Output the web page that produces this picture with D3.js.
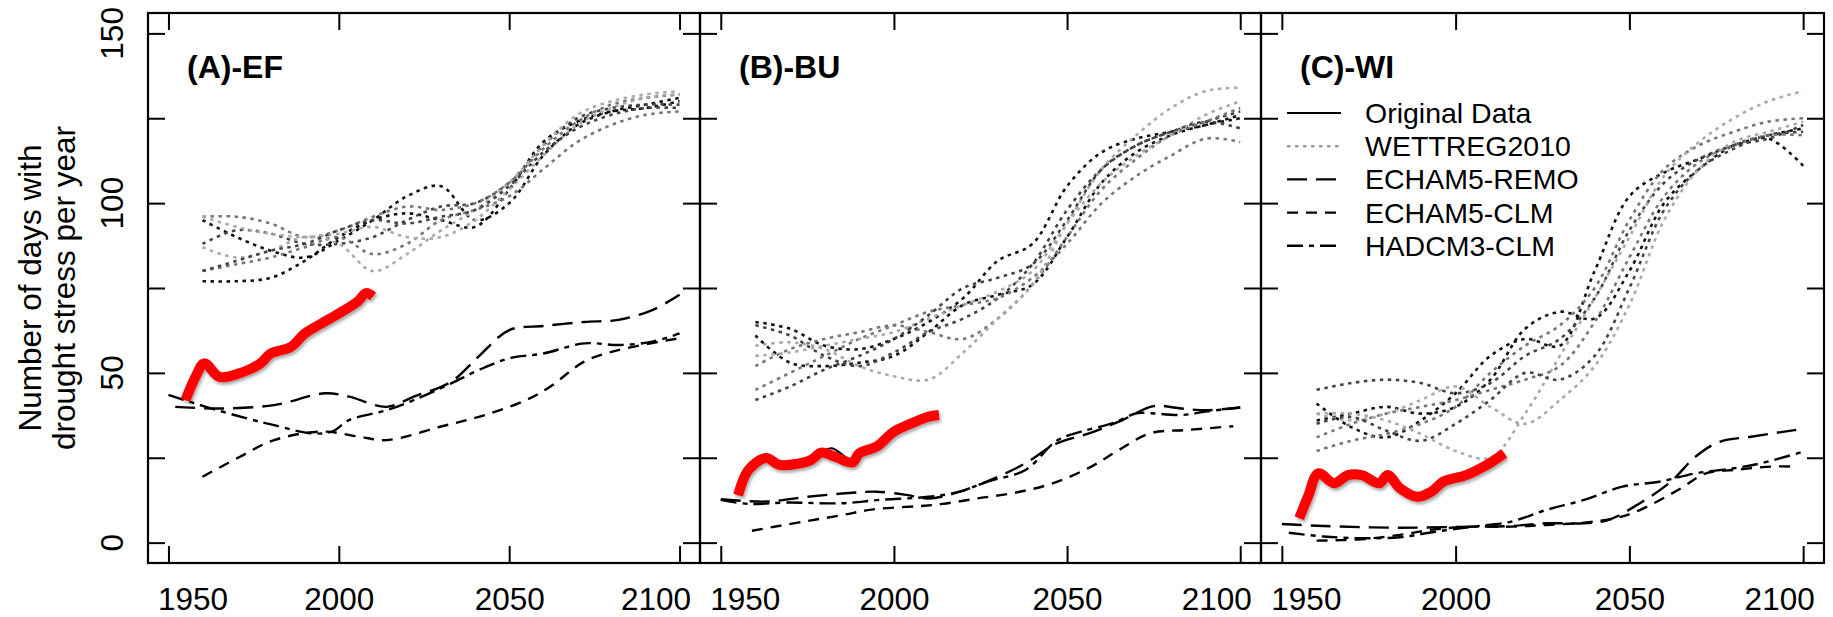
<!DOCTYPE html>
<html>
<head>
<meta charset="utf-8">
<script src="https://cdn.jsdelivr.net/npm/d3@7"></script>
<style>
  html, body { margin: 0; padding: 0; background: #fff; }
  svg { display: block; font-family: "Liberation Sans", Arial, Helvetica, sans-serif; }
</style>
</head>
<body>
<svg id="chart" width="1833" height="617"></svg>
<script>
// ---- Data --------------------------------------------------------------
const panelNames = ["(A)-EF", "(B)-BU", "(C)-WI"];
const xTicks = [1950, 2000, 2050, 2100];
const yTicks = [0, 25, 50, 75, 100, 125, 150];
const yLabels = [0, 50, 100, 150];
const legendLabels = ["Original Data", "WETTREG2010", "ECHAM5-REMO", "ECHAM5-CLM", "HADCM3-CLM"];

// WETTREG2010 realisations, sampled every decade
const wettregYears = [1960, 1970, 1980, 1990, 2000, 2010, 2020, 2030, 2040, 2050, 2060, 2070, 2080, 2090, 2100];
const wettregShades = ["#111", "#111", "#444", "#777", "#777", "#aaa", "#aaa", "#444"];

const efWettreg = [
  [77, 77, 78, 83, 90, 95, 97, 95, 93, 104, 118, 124, 127, 128, 130],
  [95, 90, 86, 84, 89, 95, 102, 105, 95, 100, 114, 123, 127, 129, 131],
  [88, 92, 91, 88, 88, 90, 95, 99, 100, 106, 117, 125, 128, 129, 129],
  [96, 96, 94, 90, 92, 96, 99, 98, 100, 106, 116, 124, 129, 131, 132],
  [80, 82, 84, 87, 90, 85, 88, 95, 98, 102, 110, 118, 123, 126, 127],
  [87, 84, 86, 90, 88, 80, 85, 92, 98, 106, 117, 126, 130, 132, 133],
  [96, 93, 91, 90, 91, 93, 90, 90, 95, 104, 114, 123, 128, 131, 132],
  [80, 83, 86, 88, 92, 95, 94, 96, 98, 105, 115, 122, 126, 128, 128]
];
const buWettreg = [
  [65, 63, 58, 57, 60, 65, 72, 83, 88, 105, 115, 119, 121, 123, 126],
  [61, 53, 52, 53, 55, 62, 70, 73, 76, 90, 106, 115, 120, 123, 125],
  [64, 61, 55, 52, 56, 62, 66, 72, 82, 98, 110, 117, 121, 124, 127],
  [52, 57, 60, 62, 64, 62, 60, 66, 76, 90, 104, 113, 120, 124, 128],
  [45, 50, 55, 60, 64, 68, 70, 72, 78, 88, 100, 108, 114, 119, 118],
  [58, 59, 57, 52, 49, 48, 56, 66, 76, 94, 110, 120, 128, 133, 134],
  [55, 56, 58, 60, 62, 66, 70, 74, 80, 94, 106, 114, 120, 126, 130],
  [42, 46, 51, 55, 60, 67, 75, 78, 82, 95, 110, 117, 121, 124, 122]
];
const wiWettreg = [
  [41, 34, 31, 36, 44, 55, 60, 58, 80, 102, 109, 113, 117, 119, 111],
  [36, 38, 40, 38, 40, 48, 63, 68, 66, 80, 100, 110, 117, 120, 122],
  [45, 47, 48, 47, 44, 47, 55, 60, 72, 92, 106, 113, 117, 119, 123],
  [31, 35, 38, 40, 42, 45, 48, 52, 65, 84, 102, 112, 117, 120, 120],
  [27, 30, 32, 35, 40, 50, 58, 64, 75, 95, 110, 117, 121, 124, 125],
  [38, 38, 36, 32, 27, 25, 38, 55, 72, 90, 108, 118, 125, 130, 133],
  [38, 36, 38, 42, 46, 40, 35, 42, 52, 70, 95, 110, 118, 121, 124],
  [35, 37, 33, 30, 35, 42, 50, 48, 55, 75, 98, 110, 116, 120, 121]
];

// Regional climate model runs: [year, days]
const efRemo = [[1952,40],[1965,39.5],[1981,40.5],[1996,44],[2003,43],[2014,40],[2022,43],[2033,47.4],[2041,54.8],[2050,62.6],[2060,63.8],[2072,65],[2082,65.6],[2092,68.5],[2100,73]];
const efClm = [[1960,19.4],[1971,25.3],[1981,30.2],[1995,32.7],[2006,31.2],[2014,30.2],[2030,34.2],[2043,37.6],[2055,42],[2062,45.9],[2072,53.3],[2082,56.7],[2100,60.2]];
const efHad = [[1950,43.5],[1961,40],[1973,36.6],[1981,34.6],[1992,32.2],[1998,32.7],[2003,36.1],[2014,39],[2022,42],[2033,46.9],[2041,50.8],[2050,54.3],[2060,55.7],[2072,58.7],[2082,58.2],[2092,59.2],[2100,61.6]];

const buRemo = [[1950,12.8],[1963,12.1],[1975,13.5],[1988,14.7],[1995,15],[2004,14],[2010,13],[2019,15],[2030,19.4],[2038,23.4],[2047,29.2],[2057,32.4],[2066,36.1],[2075,40.2],[2083,39.5],[2090,39],[2100,39.8]];
const buClm = [[1959,3.5],[1974,6.2],[1985,8.1],[1994,9.8],[2008,10.8],[2014,11.4],[2024,13],[2035,14.7],[2046,17.5],[2057,22.4],[2065,27.3],[2074,32.2],[2085,33.2],[2098,34.3]];
const buHad = [[1950,12.6],[1958,11.4],[1969,11.8],[1985,11.6],[1996,12.6],[2010,13.5],[2019,15],[2027,18],[2038,21.4],[2047,30],[2054,32.7],[2063,35.1],[2070,38.1],[2074,38.1],[2083,37.6],[2090,38.6],[2100,39.8]];

const wiRemo = [[1950,5.5],[1962,4.9],[1984,4.4],[2005,4.7],[2016,4.9],[2026,5.7],[2037,5.7],[2044,6.7],[2053,11.6],[2062,18],[2069,25.3],[2076,29.7],[2085,31.2],[2098,33.2]];
const wiClm = [[1960,0.6],[1973,1],[1984,2.3],[1994,3.9],[2005,4.7],[2016,4.7],[2026,5.2],[2037,5.9],[2046,7.2],[2053,9.6],[2064,15.5],[2072,20.4],[2080,21.4],[2091,22.4],[2098,22.4]];
const wiHad = [[1952,2.9],[1962,1.8],[1973,1.3],[1984,1.6],[1994,3.2],[2005,4.7],[2016,6.2],[2026,9.6],[2037,12.6],[2048,16.5],[2059,18],[2069,20.4],[2080,21.9],[2088,23.4],[2100,26.8]];

// Observed series (smoothed), black line and highlighted red copy
const efObs = [[1955,42],[1958,49],[1960.5,52.8],[1965,48.8],[1970,49],[1975,51.5],[1978,53],[1980,55.5],[1986,56.5],[1990,61.6],[1995,64.6],[2000,67.5],[2005.5,71],[2008,73.5],[2010,72.5]];
const efRed = [[1955,42],[1958,49],[1960.5,52.8],[1965,48.8],[1972,50.3],[1977,52.8],[1980,55.7],[1986,57.7],[1990,61.6],[1995,64.6],[2000,67.5],[2005.5,71],[2008,73.5],[2010,72.5]];
const buObs = [[1955,14],[1958,21.4],[1963,24.9],[1967,22.9],[1972,23.2],[1976,24.3],[1979,26.5],[1982,27.8],[1985,26],[1988,23.6],[1990,26.3],[1995,28.3],[2000,32.7],[2005,35.1],[2010,37.1],[2013,37.6]];
const buRed = [[1955,14],[1958,21.4],[1963,24.9],[1967,22.9],[1972,23.2],[1976,24.3],[1979,26.5],[1983,25.3],[1988,23.6],[1990,26.3],[1995,28.3],[2000,32.7],[2005,35.1],[2010,37.1],[2013,37.6]];
const wiObs = [[1955,7.2],[1957.5,13.5],[1960.5,21],[1965,17.5],[1969,19.9],[1973,19.9],[1978,17.5],[1980.5,19.9],[1983,18],[1989,13.5],[1993,15],[1996.5,18],[2003,19.9],[2009,22.9],[2014,26.3]];
const wiRed = [[1955,7.2],[1957.5,13.5],[1960.5,20.4],[1965,17.5],[1969,19.9],[1973,19.9],[1978,17.5],[1980.5,19.9],[1984,16],[1989,13.5],[1993,15],[1996.5,18],[2003,19.9],[2009,22.9],[2014,26.3]];

// ---- Layout ------------------------------------------------------------
const panelEdges = [[148, 700], [700, 1261], [1261, 1824]];
const plotTop = 13, plotBottom = 563;
const tickLen = 17;
const tickFont = 31.5;
const panelData = [
  { wettreg: efWettreg, remo: efRemo, clm: efClm, had: efHad, obs: efObs, red: efRed },
  { wettreg: buWettreg, remo: buRemo, clm: buClm, had: buHad, obs: buObs, red: buRed },
  { wettreg: wiWettreg, remo: wiRemo, clm: wiClm, had: wiHad, obs: wiObs, red: wiRed }
];

const styles = {
  obs:     { stroke: "#000", width: 2.2, dash: null },
  wettreg: { stroke: "#999", width: 2.6, dash: "3.5,4.5" },
  remo:    { stroke: "#000", width: 2.4, dash: "20,9" },
  clm:     { stroke: "#000", width: 2.4, dash: "11,8" },
  had:     { stroke: "#000", width: 2.4, dash: "16,6,5,6" }
};

const svg = d3.select("#chart");
const defs = svg.append("defs");
const shadow = defs.append("filter").attr("id", "redShadow")
  .attr("x", "-10%").attr("y", "-10%").attr("width", "130%").attr("height", "130%");
shadow.append("feDropShadow").attr("dx", 1.5).attr("dy", 2.5).attr("stdDeviation", 1.8)
  .attr("flood-color", "#000").attr("flood-opacity", 0.35);

const y = d3.scaleLinear().domain([-6, 156]).range([plotBottom, plotTop]);

panelEdges.forEach((edges, i) => {
  const [x0, x1] = edges;
  const x = d3.scaleLinear().domain([1944, 2106]).range([x0, x1]);
  const g = svg.append("g");
  const d = panelData[i];

  const line = d3.line().x(p => x(p[0])).y(p => y(p[1])).curve(d3.curveCatmullRom.alpha(0.5));

  // WETTREG2010 realisations
  d.wettreg.forEach((vals, k) => {
    g.append("path")
      .datum(wettregYears.map((yr, j) => [yr, vals[j]]))
      .attr("d", line)
      .attr("fill", "none")
      .attr("stroke", wettregShades[k % wettregShades.length])
      .attr("stroke-width", styles.wettreg.width)
      .attr("stroke-dasharray", styles.wettreg.dash);
  });

  // dynamic RCM runs
  ["remo", "clm", "had"].forEach(key => {
    g.append("path").datum(d[key]).attr("d", line)
      .attr("fill", "none")
      .attr("stroke", styles[key].stroke)
      .attr("stroke-width", styles[key].width)
      .attr("stroke-dasharray", styles[key].dash);
  });

  // observed series
  g.append("path").datum(d.obs).attr("d", line)
    .attr("fill", "none").attr("stroke", "#000").attr("stroke-width", styles.obs.width);
  g.append("path").datum(d.red).attr("d", line)
    .attr("fill", "none").attr("stroke", "#ff0000").attr("stroke-width", 10)
    .attr("stroke-linejoin", "round").attr("stroke-linecap", "butt")
    .attr("filter", "url(#redShadow)");

  // axes with inward ticks on all four sides
  const bottom = g.append("g").attr("transform", `translate(0,${plotBottom})`)
    .call(d3.axisBottom(x).tickValues(xTicks).tickSizeInner(-tickLen).tickSizeOuter(0)
      .tickPadding(25).tickFormat(d3.format("d")));
  bottom.selectAll("text")
    .attr("font-size", tickFont).attr("fill", "#000")
    .attr("dx", v => v === 1950 ? 24 : (v === 2100 ? -24 : 0));
  const top = g.append("g").attr("transform", `translate(0,${plotTop})`)
    .call(d3.axisTop(x).tickValues(xTicks).tickSizeInner(-tickLen).tickSizeOuter(0).tickFormat(""));
  const left = g.append("g").attr("transform", `translate(${x0},0)`)
    .call(d3.axisLeft(y).tickValues(yTicks).tickSizeInner(-tickLen).tickSizeOuter(0).tickFormat(""));
  const right = g.append("g").attr("transform", `translate(${x1},0)`)
    .call(d3.axisRight(y).tickValues(yTicks).tickSizeInner(-tickLen).tickSizeOuter(0).tickFormat(""));
  [bottom, top, left, right].forEach(a => {
    a.selectAll(".domain").remove();
    a.selectAll("line").attr("stroke", "#000").attr("stroke-width", 2);
  });

  // panel frame
  g.append("rect").attr("x", x0).attr("y", plotTop)
    .attr("width", x1 - x0).attr("height", plotBottom - plotTop)
    .attr("fill", "none").attr("stroke", "#000").attr("stroke-width", 2.2);

  // panel title
  g.append("text").attr("x", x0 + 39).attr("y", 78)
    .attr("font-size", 32).attr("font-weight", "bold").text(panelNames[i]);

  // y labels only on the first panel
  if (i === 0) {
    g.selectAll(".ylab").data(yLabels).enter().append("text")
      .attr("transform", v => `translate(123,${y(v)}) rotate(-90)`)
      .attr("text-anchor", "middle").attr("font-size", tickFont).text(v => v);
  }

  // legend in the last panel
  if (i === 2) {
    const keys = ["obs", "wettreg", "remo", "clm", "had"];
    const lg = g.append("g");
    keys.forEach((k, j) => {
      const cy = 113 + j * 33.2;
      lg.append("line").attr("x1", x0 + 26).attr("x2", x0 + 80).attr("y1", cy).attr("y2", cy)
        .attr("stroke", k === "wettreg" ? "#999" : "#000")
        .attr("stroke-width", styles[k].width)
        .attr("stroke-dasharray", styles[k].dash);
      lg.append("text").attr("x", x0 + 104).attr("y", cy + 10)
        .attr("font-size", 28.5).text(legendLabels[j]);
    });
  }
});

// shared y axis title
const yTitle = svg.append("g").attr("transform", "translate(0,288)");
yTitle.append("text").attr("transform", "translate(41,0) rotate(-90)")
  .attr("text-anchor", "middle").attr("font-size", 31.5).text("Number of days with");
yTitle.append("text").attr("transform", "translate(75,0) rotate(-90)")
  .attr("text-anchor", "middle").attr("font-size", 31.5).text("drought stress per year");
</script>
</body>
</html>
